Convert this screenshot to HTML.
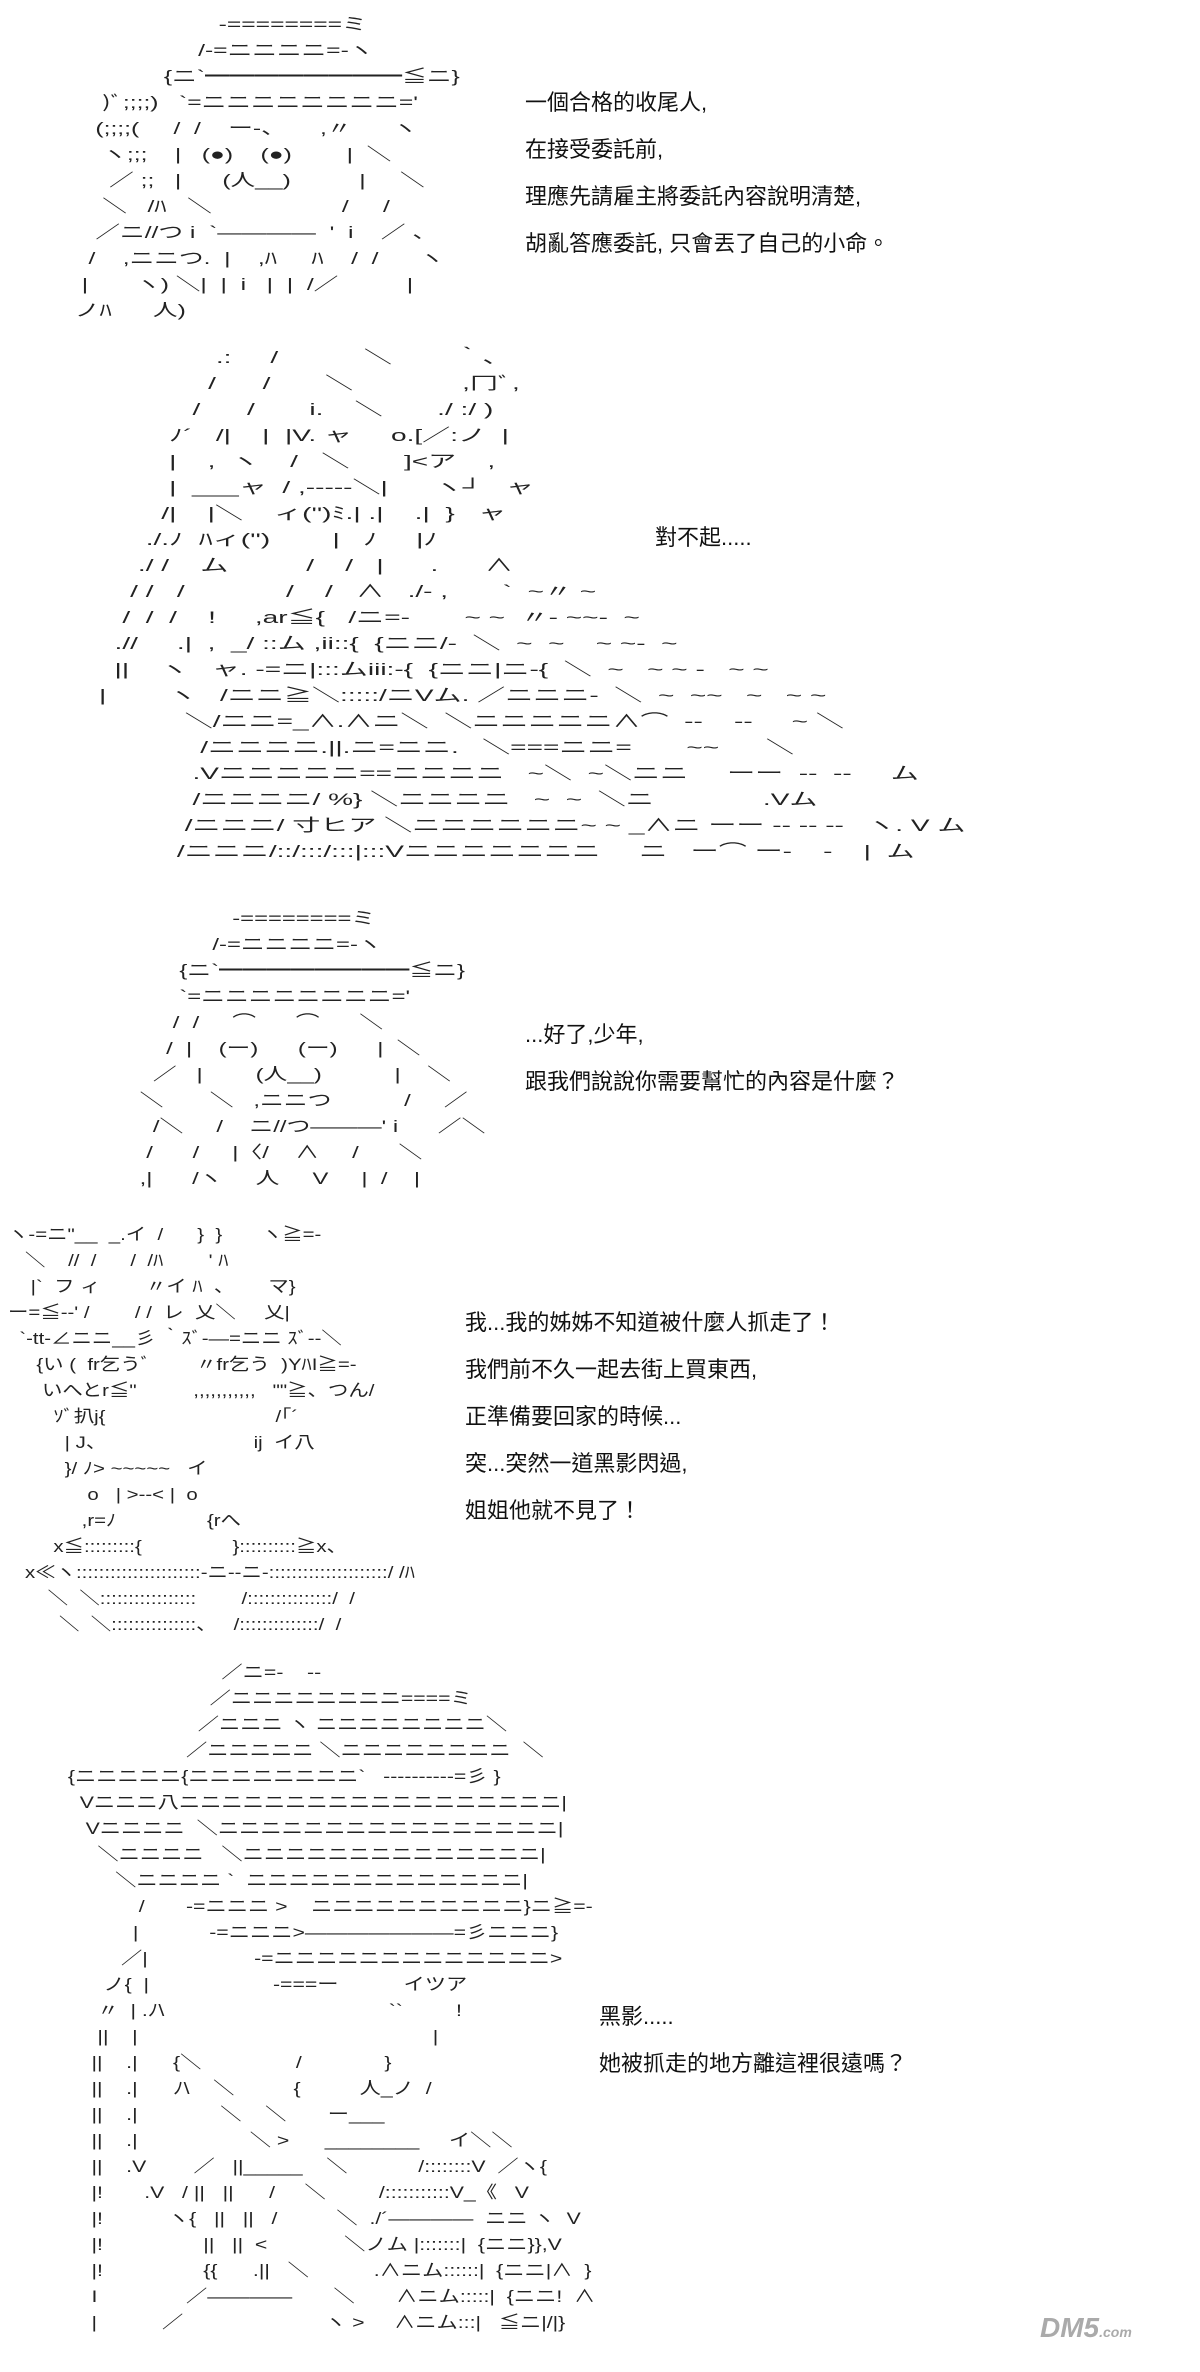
<!DOCTYPE html>
<html><head><meta charset="utf-8">
<style>
html,body{margin:0;padding:0;background:#fff;}
body{width:1200px;height:2372px;position:relative;overflow:hidden;}
.t{position:absolute;font-family:"Liberation Sans","Noto Sans CJK TC",sans-serif;font-size:22px;color:#111;line-height:47px;white-space:pre;}
.a{position:absolute;margin:0;font-family:"Liberation Sans","Noto Sans CJK JP",sans-serif;font-size:17px;line-height:26px;color:#222;white-space:pre;transform-origin:0 0;}
.logo{position:absolute;left:1040px;top:2312px;font-family:"Liberation Sans",sans-serif;font-weight:bold;font-style:italic;font-size:28px;color:#aaa;}
</style></head><body>

<pre class="a" style="left:68px;top:12px;transform:scaleX(1.45);">                      -========ミ
                   /-=ニニニニ=-ヽ
              {ニ`━━━━━━━━≦ニ}
     )ﾞ;;;;)   `=ニニニニニニニニ='
    (;;;;(     /  /    ー-、     ,〃      ヽ
     ヽ;;;    |   (●)    (●)        |  ＼
      ／ ;;   |      (人__)          |     ＼
     ＼   /ﾊ   ＼                   /     /
    ／ニ//つ i  `――――  '  i    ／ 、
   /    ,ニニつ.  |    ,ﾊ     ﾊ    /  /      ヽ
  |       ヽ) ＼|  |  i   |  |  /／          |
 ノﾊ      人)</pre>
<div class="t" style="left:525px;top:79px;">一個合格的收尾人,
在接受委託前,
理應先請雇主將委託內容說明清楚,
胡亂答應委託, 只會丟了自己的小命。</div>

<pre class="a" style="left:60px;top:345px;transform:scaleX(1.65);">                    .:     /           ＼        ｀、
                   /      /       ＼              ,冂ﾞ,
                 /      /       i.    ＼       ./ :/ )
              ﾉ´   /|    |  |V. ャ     o.[／:ノ  |
              |    ,  ヽ    /   ＼       ]<ア    ,
              |  ___ャ  / ,-----＼|      ヽ┘   ャ
             /|    |＼    ィ('')ﾐ.| .|    .|  }   ャ
           ./.ﾉ  ﾊィ('')        |   ﾉ     |ﾉ
          ./ /    ム          /    /   |      .      ∧
         / /   /             /    /   ∧   ./- ,       `  ~〃 ~
        /  /  /    !     ,ar≦{   /ニ=-       ~ ~  〃- ~~-  ~
       .//     .|  ,  _/ ::ム ,ii::{  {ニニ/-  ＼  ~  ~    ~ ~-  ~
       ||    ヽ   ャ. -=ニ|:::ムiii:-{  {ニニ|ニ-{  ＼  ~   ~ ~ -   ~ ~
     |        ヽ   /ニニ≧＼:::::/ニVム. ／ニニニ-  ＼  ~  ~~   ~   ~ ~
                ＼/ニニ=_∧.∧ニ＼  ＼ニニニニニ∧⌒  --    --     ~ ＼
                  /ニニニニ.||.ニ=ニニ.   ＼===ニニ=       ~~      ＼
                 .Vニニニニニ==ニニニニ   ~＼  ~＼ニニ     ーー  --  --     ム
                 /ニニニニ/ %} ＼ニニニニ   ~  ~  ＼ニ              .Vム
                /ニニニ/ 寸ヒア ＼ニニニニニニ~ ~ _∧ニ ーー -- -- --   ヽ. V ム
               /ニニニ/::/:::/:::|:::Vニニニニニニニ     ニ   ー⌒ ー-    -    |  ム</pre>
<div class="t" style="left:655px;top:514px;">對不起.....</div>

<pre class="a" style="left:100px;top:906px;transform:scaleX(1.4);">                    -========ミ
                 /-=ニニニニ=-ヽ
            {ニ`━━━━━━━━≦ニ}
            `=ニニニニニニニニ='
           /  /     ⌒      ⌒      ＼
          /  |    (ー)      (ー)      |  ＼
        ／   |        (人__)           |    ＼
      ＼       ＼   ,ニニつ           /     ／
        /＼     /    ニ//つ―――' i      ／＼
       /      /     |〈/    ∧     /      ＼
      ,|      /ヽ     人     V     |  /    |</pre>
<div class="t" style="left:525px;top:1011px;">...好了,少年,
跟我們說說你需要幫忙的內容是什麼？</div>

<pre class="a" style="left:8px;top:1222px;transform:scaleX(1.2);">ヽ-=ニ"__  _.イ  /      }  }       ヽ≧=-
   ＼    //  /      /  /ﾊ        ' ﾊ
    |`  フ ィ        〃イ ﾊ  、      マ}
ー=≦--' /        / /  レ  乂＼     乂|
  `-tt-∠ニニ__彡 ｀ｽﾞ-―=ニニ ｽﾞ--＼
     {い (  fr乞うﾞ        〃fr乞う  )YﾊI≧=-
      いへとr≦"          ,,,,,,,,,,,   ""≧、つん/
        ｿﾞ扒j{                              /｢´
          | J、                          ij  イ八
          }/ ﾉ> ~~~~~   イ
              o   | >--< |  o
             ,r=ﾉ                {rへ
        x≦:::::::::{                }::::::::::≧x、
   x≪ヽ::::::::::::::::::::::-ニ--ニ-:::::::::::::::::::::/ /ﾊ
       ＼  ＼:::::::::::::::::        /:::::::::::::::/  /
         ＼  ＼:::::::::::::::、   /::::::::::::::/  /</pre>
<div class="t" style="left:465px;top:1299px;">我...我的姊姊不知道被什麼人抓走了！
我們前不久一起去街上買東西,
正準備要回家的時候...
突...突然一道黑影閃過,
姐姐他就不見了！</div>

<pre class="a" style="left:62px;top:1660px;transform:scaleX(1.25);">                           ／ニ=-    --
                         ／ニニニニニニニニ====ミ
                       ／ニニニ ヽ ニニニニニニニニ＼
                     ／ニニニニニ ＼ニニニニニニニニ  ＼
 {ニニニニニ{ニニニニニニニニ`   ----------=彡 }
   Vニニニ八ニニニニニニニニニニニニニニニニニニ|
    Vニニニニ  ＼ニニニニニニニニニニニニニニニニ|
      ＼ニニニニ   ＼ニニニニニニニニニニニニニニ|
         ＼ニニニニ `  ニニニニニニニニニニニニニ|
             /       -=ニニニ >    ニニニニニニニニニニ}ニ≧=-
            |            -=ニニニ>―――――――=彡ニニニ}
          ／|                  -=ニニニニニニニニニニニニニ>
       ノ{  |                     -===ー           イツア
      〃  | .ﾉ\                                      ``         !
      ||    |                                                  |
     ||    .|      {＼                /              }
     ||    .|      ﾉ\    ＼          {          人_ノ  /
     ||    .|              ＼    ＼       ー___
     ||    .|                   ＼ >      ________     イ＼＼
     ||    .V        ／   ||_____    ＼            /::::::::V  ／ヽ{
     |!       .V   / ||   ||      /     ＼         /:::::::::::V_《   V
     |!           ヽ{   ||   ||   /          ＼  ./´――――  ニニ ヽ  V
     |!                 ||   ||  <             ＼ノム |:::::::|  {ニニ}},V
     |!                 {{      .||   ＼           .∧ニム::::::|  {ニニ|∧  }
     I               ／――――       ＼       ∧ニム:::::|  {ニニ!  ∧
     |           ／                        ヽ >     ∧ニム:::|   ≦ニ|/|}</pre>
<div class="t" style="left:599px;top:1993px;">黑影.....
她被抓走的地方離這裡很遠嗎？</div>

<div class="logo">DM5<span style="font-size:14px">.com</span></div>
</body></html>
